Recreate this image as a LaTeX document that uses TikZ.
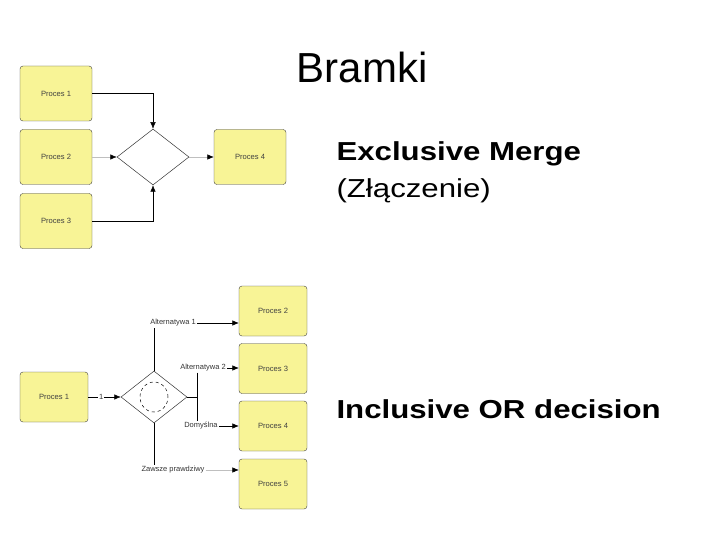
\documentclass[tikz,border=0pt]{standalone}
\usepackage{fontspec}
\usepackage{graphicx}
\setmainfont{Liberation Sans}
\usetikzlibrary{arrows.meta,positioning,shapes.geometric}
\definecolor{procfill}{RGB}{248,244,150}
\tikzset{
  proc/.style={draw=black!75,fill=procfill,rounded corners=3pt,minimum width=72pt,
    minimum height=55pt,inner sep=0pt,font=\fontsize{7.6}{8}\selectfont,text=black!75},
  mproc/.style={proc,minimum width=68pt,minimum height=50pt},
  bramka/.style={diamond,draw=black!80,inner sep=0pt,line width=0.5pt},
  etyk/.style={inner sep=1pt,font=\fontsize{7.5}{8}\selectfont,text=black!80},
  strz/.style={line width=0.5pt,-{Latex[length=6.5pt,width=5.5pt,color=black]}},
  blade/.style={strz,draw=black!25},
  lin/.style={line width=0.5pt},
  duzy/.style={anchor=base west,font=\fontsize{26}{30}\selectfont},
}
\newcommand{\szer}[1]{\scalebox{1.2}[1]{#1}}
\begin{document}
\begin{tikzpicture}[x=1pt,y=-1pt]
  \useasboundingbox (0,0) rectangle (720,540);
  % tytul i opisy
  \node[anchor=base] (tytul) at (362,83) {\fontsize{42}{50}\selectfont Bramki};
  \node[duzy,font=\bfseries\fontsize{26}{30}\selectfont] (merge) at (333,161) {\szer{Exclusive Merge}};
  \node[duzy] (zlacz) at (333,198) {\szer{(Złączenie)}};
  \node[duzy,font=\bfseries\fontsize{26}{30}\selectfont] (incl) at (333,418) {\szer{Inclusive OR decision}};

  % exclusive merge
  \node[proc] (p1) at (56,93.5) {Proces 1};
  \node[proc] (p2) at (56,157) {Proces 2};
  \node[proc] (p3) at (56,221) {Proces 3};
  \node[bramka,minimum width=72pt,minimum height=56pt] (g1) at (153,157) {};
  \node[proc] (p4) at (250,157) {Proces 4};
  \draw[strz] (p1.east) -| (g1.north);
  \draw[blade] (p2.east) -- (g1.west);
  \draw[strz] (p3.east) -| (g1.south);
  \draw[blade] (g1.east) -- (p4.west);

  % inclusive OR
  \node[mproc] (q1) at (54,397) {Proces 1};
  \node[bramka,minimum width=66pt,minimum height=52pt] (g2) at (154,397) {};
  \draw[lin,dashed] (g2.center) circle[x radius=14pt,y radius=15pt];
  \node[mproc] (q2) at (273,311) {Proces 2};
  \node[mproc] (q3) at (273,368.5) {Proces 3};
  \node[mproc] (q4) at (273,426) {Proces 4};
  \node[mproc] (q5) at (273,484) {Proces 5};
  \node[etyk] (alt1) at (173,323) {Alternatywa 1};
  \node[etyk] (alt2) at (203,368) {Alternatywa 2};
  \node[etyk] (dom) at (201,426) {Domyślna};
  \node[etyk] (zaw) at (173,470) {Zawsze prawdziwy};
  \coordinate (rozw) at (197,397);

  \draw[strz] (q1.east) -- node[etyk,fill=white,pos=0.4] {1} (g2.west);
  \draw[lin] (g2.north) -- (g2.north |- alt1.south);
  \draw[strz] (alt1.east) -- (alt1.east -| q2.west);
  \draw[lin] (g2.east) -- (rozw);
  \draw[lin] (rozw |- alt2.south) -- (rozw |- dom.north);
  \draw[strz] (alt2.east) -- (alt2.east -| q3.west);
  \draw[strz] (dom.east) -- (dom.east -| q4.west);
  \draw[lin] (g2.south) -- (g2.south |- zaw.north);
  \draw[blade] (zaw.east) -- (zaw.east -| q5.west);
\end{tikzpicture}
\end{document}
